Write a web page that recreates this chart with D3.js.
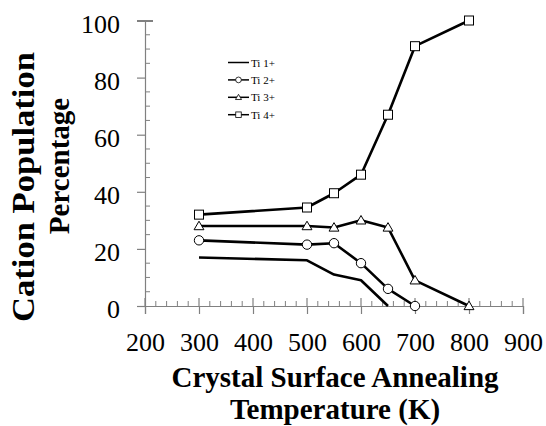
<!DOCTYPE html>
<html>
<head>
<meta charset="utf-8">
<script src="https://cdn.jsdelivr.net/npm/d3@7"></script>
<style>
  body { margin: 0; background: #fff; }
  svg { display: block; }
</style>
</head>
<body>
<svg id="chart" width="546" height="426"></svg>
<script>
const temps = [300, 500, 550, 600, 650, 700, 800];
const ti1 = [17, 16, 11, 9, 0];
const ti2 = [23, 21.5, 22, 15, 6, 0];
const ti3 = [28, 28, 27.5, 30, 27.5, 9, 0];
const ti4 = [32, 34.5, 39.5, 46, 67, 91, 100];
const seriesNames = ['Ti 1+', 'Ti 2+', 'Ti 3+', 'Ti 4+'];
const seriesMarks = ['none', 'circle', 'triangle', 'square'];
const xTicks = [200, 300, 400, 500, 600, 700, 800, 900];
const yTicks = [0, 20, 40, 60, 80, 100];

const svg = d3.select('#chart');
const x = d3.scaleLinear().domain([200, 900]).range([145, 523]);
const y = d3.scaleLinear().domain([0, 100]).range([306, 20.5]);
const FONT = "'Liberation Serif', 'Times New Roman', serif";
const AX = '#808080';

const series = [ti1, ti2, ti3, ti4].map((vals, i) => ({
  name: seriesNames[i],
  mark: seriesMarks[i],
  pts: vals.map((v, j) => [temps[j], v])
}));

// axes
const gx = svg.append('g').attr('transform', `translate(0,${y(0)})`)
  .call(d3.axisBottom(x).tickValues(xTicks).tickSize(8).tickPadding(19));
const gy = svg.append('g').attr('transform', `translate(${x(200)},0)`)
  .call(d3.axisLeft(y).tickValues(yTicks).tickSize(8).tickPadding(17));
[gx, gy].forEach(g => {
  g.attr('font-family', FONT).attr('font-size', 26);
  g.select('.domain').attr('stroke', AX).attr('stroke-width', 1.2);
  g.selectAll('.tick line').attr('stroke', AX).attr('stroke-width', 1.2);
  g.selectAll('.tick text').attr('fill', '#000')
    .style('font-family', FONT).style('font-size', '26px');
});
gy.selectAll('.tick text').attr('dy', '0.45em');
gy.select('.tick:last-of-type line').attr('x2', 8).attr('x1', -8).attr('stroke-width', 2);

// minor ticks
const minorX = d3.range(200, 901, 20).filter(v => v % 100 !== 0);
svg.append('g').selectAll('line').data(minorX).join('line')
  .attr('x1', d => x(d)).attr('x2', d => x(d))
  .attr('y1', y(0)).attr('y2', y(0) - 5)
  .attr('stroke', AX).attr('stroke-width', 1);
svg.append('g').selectAll('line').data(xTicks).join('line')
  .attr('x1', d => x(d)).attr('x2', d => x(d))
  .attr('y1', y(0)).attr('y2', y(0) - 8)
  .attr('stroke', AX).attr('stroke-width', 1.2);
const minorY = d3.range(0, 101, 5).filter(v => v % 20 !== 0);
svg.append('g').selectAll('line').data(minorY).join('line')
  .attr('x1', x(200)).attr('x2', x(200) + 5)
  .attr('y1', d => y(d)).attr('y2', d => y(d))
  .attr('stroke', AX).attr('stroke-width', 1);

// lines
const line = d3.line().x(d => x(d[0])).y(d => y(d[1]));
svg.append('g').selectAll('path').data(series).join('path')
  .attr('d', d => line(d.pts))
  .attr('fill', 'none').attr('stroke', '#000').attr('stroke-width', 2.6)
  .attr('stroke-linejoin', 'round');

function drawMark(g, mark, cx, cy, s) {
  if (mark === 'circle') {
    g.append('circle').attr('cx', cx).attr('cy', cy).attr('r', s * 0.52);
  } else if (mark === 'square') {
    g.append('rect').attr('x', cx - s / 2).attr('y', cy - s / 2).attr('width', s).attr('height', s);
  } else if (mark === 'triangle') {
    const h = s * 0.9;
    g.append('path').attr('d', `M${cx},${cy - h * 0.6}L${cx + s * 0.55},${cy + h * 0.45}L${cx - s * 0.55},${cy + h * 0.45}Z`);
  }
}

const marks = svg.append('g').attr('fill', '#fff').attr('stroke', '#000').attr('stroke-width', 1);
series.forEach(s => {
  s.pts.forEach(p => drawMark(marks, s.mark, x(p[0]), y(p[1]), 9));
});

// legend
const leg = svg.append('g').attr('font-family', FONT).attr('font-size', 11);
series.forEach((s, i) => {
  const ly = 62.5 + i * 17.4;
  leg.append('line').attr('x1', 228).attr('x2', 249).attr('y1', ly).attr('y2', ly)
    .attr('stroke', '#000').attr('stroke-width', 1.5);
  const mg = leg.append('g').attr('fill', '#fff').attr('stroke', '#000').attr('stroke-width', 0.8);
  drawMark(mg, s.mark, 238.5, ly, 5.5);
  leg.append('text').attr('x', 251).attr('y', ly + 4).text(s.name);
});

// axis titles
svg.append('text').attr('x', 335).attr('y', 387).attr('text-anchor', 'middle')
  .attr('font-family', FONT).attr('font-weight', 'bold').attr('font-size', 29)
  .text('Crystal Surface Annealing');
svg.append('text').attr('x', 335).attr('y', 419).attr('text-anchor', 'middle')
  .attr('font-family', FONT).attr('font-weight', 'bold').attr('font-size', 29)
  .text('Temperature (K)');
svg.append('text').attr('transform', 'translate(34,187) rotate(-90)').attr('text-anchor', 'middle')
  .attr('font-family', FONT).attr('font-weight', 'bold').attr('font-size', 31)
  .attr('textLength', 270).attr('lengthAdjust', 'spacingAndGlyphs')
  .text('Cation Population');
svg.append('text').attr('transform', 'translate(69,166) rotate(-90)').attr('text-anchor', 'middle')
  .attr('font-family', FONT).attr('font-weight', 'bold').attr('font-size', 29)
  .text('Percentage');
</script>
</body>
</html>
